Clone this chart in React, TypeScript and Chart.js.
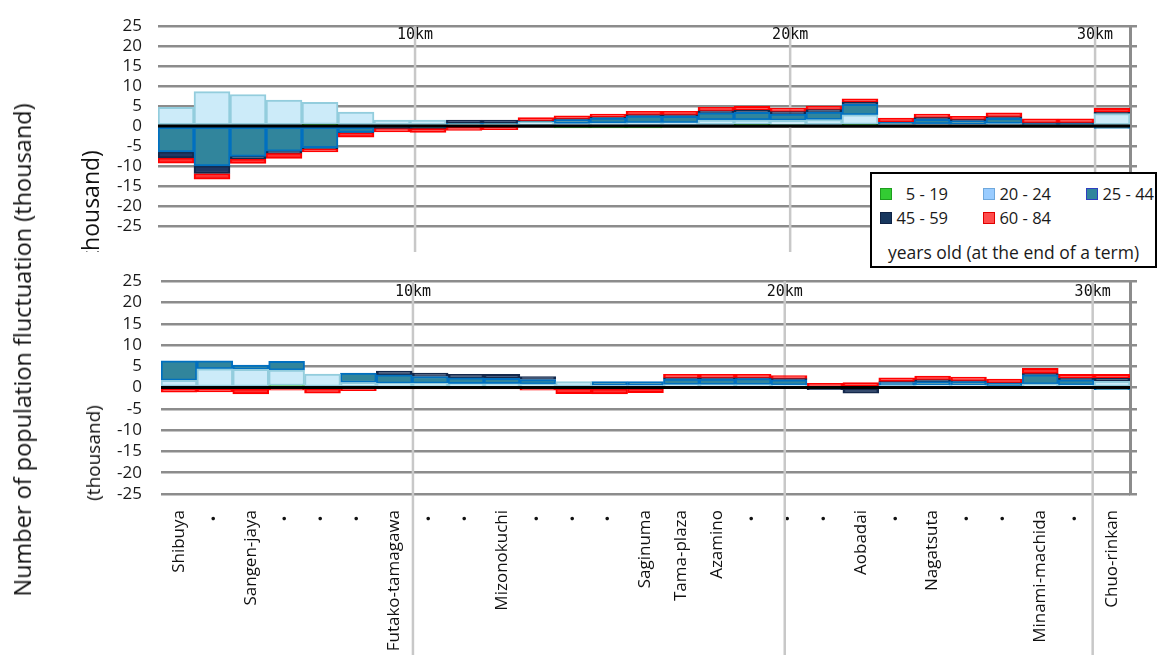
import React, { useEffect, useRef } from 'react';
import { Chart, registerables } from 'chart.js';

Chart.register(...registerables);

const FONT = "'Open Sans', 'Noto Sans CJK JP', sans-serif";
Chart.defaults.font.family = FONT;

// ---------- data ----------
const stations = [
  'Shibuya', '・', 'Sangen-jaya', '・', '・', '・', 'Futako-tamagawa', '・', '・',
  'Mizonokuchi', '・', '・', '・', 'Saginuma', 'Tama-plaza', 'Azamino', '・', '・',
  '・', 'Aobadai', '・', 'Nagatsuta', '・', '・', 'Minami-machida', '・', 'Chuo-rinkan',
];

const ageGroups = ['5 - 19', '20 - 24', '25 - 44', '45 - 59', '60 - 84'];
const legendNote = 'years old (at the end of a term)';

const yMin = -25;
const yMax = 25;
const yStep = 5;

const kmLabels = ['10km', '20km', '30km'];
// positions along the route, in station-index units
const kmPositionsTop = [6.64, 17.06, 25.53];
const kmPositionsBottom = [6.52, 16.88, 25.46];

// upper panel (thousand)
const top5to19 = [0, 0, 0, 0, 0.4, 0, 0, 0, 0, 0, 0, -0.5, -0.5, -0.5, -0.1, 0, 0.4, 0.1, 0, 0.4, 0, 0, 0, 0, 0, 0, 0];
const top20to24 = [4.7, 8.6, 7.9, 6.5, 5.5, 3.5, 1.5, 1.5, 0.5, 0.5, 1.0, 0.6, 0.7, 0.8, 0.8, 1.5, 1.1, 1.3, 1.6, 2.4, 0.4, 0.5, 0.4, 0.6, 0.2, 0.2, 3.1];
const top25to44 = [-6.5, -10.0, -7.6, -6.3, -5.4, -1.6, -0.1, -0.4, 0.2, 0.2, 0.2, 1.0, 1.3, 1.7, 1.6, 1.8, 1.9, 1.6, 1.9, 2.6, 0.5, 1.2, 0.9, 1.3, 0.4, 0.4, -0.6];
const top45to59 = [-1.5, -1.9, -0.6, -0.5, -0.3, -0.1, -0.5, -0.2, 0.8, 0.8, 0.1, 0.2, 0.25, 0.3, 0.4, 0.5, 0.6, 0.6, 0.6, 0.6, 0.1, 0.4, 0.3, 0.4, 0.2, 0.2, 0.3];
const top60to84 = [-1.3, -1.4, -1.2, -1.3, -0.8, -1.1, -0.9, -1.0, -1.1, -0.9, 0.8, 0.75, 0.75, 0.9, 0.9, 0.9, 0.9, 0.9, 0.9, 0.8, 1.0, 0.9, 0.8, 1.0, 1.0, 1.0, 1.1];

// lower panel (thousand)
const bottom5to19 = [0, 0, 0, 0.5, 0, 0, 0, 0, 0, 0, 0, 0, 0, 0, 0, 0, 0, 0, 0, 0, 0, 0, 0, 0, 0.2, 0, 0];
const bottom20to24 = [1.7, 4.4, 4.3, 3.6, 3.2, 1.2, 1.0, 1.0, 0.9, 0.9, 0.8, 1.4, 0.5, 0.5, 0.7, 0.7, 0.7, 0.6, 0.2, 0.3, 0.5, 0.6, 0.6, 0.4, 0.6, 0.6, 1.5];
const bottom25to44 = [4.6, 1.9, 1.0, 2.1, 0, 2.2, 2.0, 1.6, 1.4, 1.3, 1.1, 0, 0.9, 0.9, 1.3, 1.3, 1.4, 1.2, 0, 0, 0.7, 0.8, 0.8, 0.6, 2.2, 1.2, -0.5];
const bottom45to59 = [0, 0, 0, 0, 0, 0, 0.9, 0.8, 0.8, 0.9, 0.7, -0.2, -0.3, -0.1, 0.3, 0.3, 0.2, 0.3, -0.5, -1.3, 0.2, 0.4, 0.2, 0.1, 0.3, 0.4, 0.7];
const bottom60to84 = [-1.1, -1.0, -1.5, -0.6, -1.3, -0.7, -0.3, -0.3, -0.2, -0.3, -0.6, -1.2, -1.2, -1.1, 0.8, 0.8, 0.8, 0.7, 0.8, 0.9, 0.9, 0.9, 0.9, 0.9, 1.2, 0.9, 0.9];

// ---------- styles ----------
const fillColors = ['#3CC43C', '#CCEBF9', '#31859C', '#1F3864', '#FF3030'];
const borderColors = ['#2EA82E', '#93CDDD', '#0070C0', '#14284B', '#FF0000'];
const swatchColors = ['#33CC33', '#99CCFF', '#31859C', '#17375E', '#FF4D4D'];
const swatchBorders = ['#1E9E1E', '#6FA8DC', '#2F3FC0', '#0E2244', '#E00000'];
const GRID = '#8C8C8C';

const toNull = (arr: number[]) => arr.map((v) => (v === 0 ? null : v));

function makeConfig(series: number[][], kmPos: number[], opts: { showLabels: boolean; axisWidth: number; padTop: number; padBottom: number; labelPad: number; kmTextOffset: number }) {
  const overlay = {
    id: 'overlay',
    beforeDatasetsDraw(chart: any) {
      const { ctx, chartArea, scales } = chart;
      ctx.save();
      ctx.strokeStyle = '#C8C8C8';
      ctx.lineWidth = 2.5;
      kmPos.forEach((p) => {
        const px = scales.x.getPixelForValue(p);
        ctx.beginPath();
        ctx.moveTo(px, chartArea.top);
        ctx.lineTo(px, chart.height);
        ctx.stroke();
      });
      ctx.restore();
    },
    afterDatasetsDraw(chart: any) {
      const { ctx, chartArea, scales } = chart;
      const y0 = scales.y.getPixelForValue(0);
      ctx.save();
      ctx.strokeStyle = '#000';
      ctx.lineWidth = 3;
      ctx.beginPath();
      ctx.moveTo(chartArea.left, y0);
      ctx.lineTo(chartArea.right, y0);
      ctx.stroke();
      ctx.font = "15px 'DejaVu Sans Mono', monospace";
      ctx.fillStyle = '#111';
      ctx.textAlign = 'center';
      ctx.textBaseline = 'middle';
      kmPos.forEach((p, i) => {
        ctx.fillText(kmLabels[i], scales.x.getPixelForValue(p), chartArea.top + opts.kmTextOffset);
      });
      ctx.restore();
    },
  };

  return {
    type: 'bar',
    data: {
      labels: stations,
      datasets: series.map((s, i) => ({
        label: ageGroups[i],
        data: toNull(s),
        backgroundColor: fillColors[i],
        borderColor: borderColors[i],
        borderWidth: 2,
        borderSkipped: false,
        barPercentage: 1,
        categoryPercentage: 1,
      })),
    },
    options: {
      responsive: false,
      animation: false,
      events: [],
      layout: { padding: { left: 0, right: 0, top: opts.padTop, bottom: opts.padBottom } },
      plugins: { legend: { display: false }, tooltip: { enabled: false }, title: { display: false } },
      scales: {
        x: {
          stacked: true,
          display: opts.showLabels,
          grid: { display: false },
          border: { display: false },
          ticks: {
            autoSkip: false,
            maxRotation: 90,
            minRotation: 90,
            padding: 8,
            color: '#111',
            font: { size: 17, family: FONT },
          },
          afterFit: (s: any) => {
            if (opts.showLabels) s.height = 161;
          },
        },
        y: {
          stacked: true,
          position: 'left',
          min: yMin,
          max: yMax,
          border: { display: false },
          grid: {
            color: (c: any) => (c.tick && c.tick.value === 0 ? '#000' : GRID),
            lineWidth: 2.5,
            drawTicks: false,
          },
          ticks: { stepSize: yStep, autoSkip: false, padding: opts.labelPad, color: '#1a1a1a', font: { size: 17, family: FONT } },
          afterFit: (s: any) => {
            s.width = opts.axisWidth;
          },
        },
        yr: {
          position: 'right',
          min: yMin,
          max: yMax,
          border: { display: true, color: GRID, width: 3 },
          grid: { drawOnChartArea: false, drawTicks: true, tickLength: 7, color: GRID, lineWidth: 2.5 },
          ticks: { stepSize: yStep, autoSkip: false, display: false },
          afterFit: (s: any) => {
            s.width = 29;
          },
        },
      },
    },
    plugins: [overlay],
  };
}

function ChartCanvas({ top, width, height, config }: { top: number; width: number; height: number; config: any }) {
  const ref = useRef<HTMLCanvasElement | null>(null);
  useEffect(() => {
    if (!ref.current) return;
    const chart = new Chart(ref.current, config);
    return () => chart.destroy();
  }, []);
  return (
    <canvas
      ref={ref}
      width={width}
      height={height}
      style={{ position: 'absolute', left: 0, top, width, height }}
    />
  );
}

function Legend() {
  const rows = [[0, 1, 2], [3, 4]];
  const colOffsets = [8, 111, 214];
  return (
    <div
      style={{
        position: 'absolute',
        left: 870,
        top: 172,
        width: 283,
        height: 92,
        border: '2px solid #000',
        background: '#fff',
        fontFamily: FONT,
        fontSize: 16.5,
        color: '#1a1a1a',
      }}
    >
      {rows.map((row, ri) => (
        <div key={ri} style={{ position: 'absolute', left: 0, top: 8 + ri * 24, height: 24, width: '100%' }}>
          {row.map((gi, ci) => (
            <div key={gi} style={{ position: 'absolute', left: colOffsets[ci], top: 0, height: 24, display: 'flex', alignItems: 'center' }}>
              <span
                style={{
                  display: 'inline-block',
                  width: 10,
                  height: 10,
                  background: swatchColors[gi],
                  border: `1px solid ${swatchBorders[gi]}`,
                }}
              />
              <span style={{ display: 'inline-block', width: 54, marginLeft: 2, textAlign: 'right', lineHeight: '24px', whiteSpace: 'nowrap' }}>{ageGroups[gi]}</span>
            </div>
          ))}
        </div>
      ))}
      <div style={{ position: 'absolute', left: 0, width: '100%', top: 66, textAlign: 'center', lineHeight: '24px', fontSize: 17.5 }}>{legendNote}</div>
    </div>
  );
}

export default function App() {
  const topConfig = makeConfig(
    [top5to19, top20to24, top25to44, top45to59, top60to84],
    kmPositionsTop,
    { showLabels: false, axisWidth: 158, padTop: 17, padBottom: 13, labelPad: 16, kmTextOffset: 9 }
  );
  const bottomConfig = makeConfig(
    [bottom5to19, bottom20to24, bottom25to44, bottom45to59, bottom60to84],
    kmPositionsBottom,
    { showLabels: true, axisWidth: 161, padTop: 19, padBottom: 0, labelPad: 19, kmTextOffset: 11 }
  );
  return (
    <div style={{ position: 'absolute', left: 0, top: 0, width: 1159, height: 655, background: '#fff', overflow: 'hidden' }}>
      <ChartCanvas top={0} width={1159} height={252} config={topConfig} />
      <ChartCanvas top={252} width={1159} height={403} config={bottomConfig} />
      <div
        style={{
          position: 'absolute',
          left: 22,
          top: 350,
          transform: 'translate(-50%, -50%) rotate(-90deg)',
          whiteSpace: 'nowrap',
          fontFamily: FONT,
          fontSize: 23.5,
          color: '#111',
        }}
      >
        Number of population fluctuation (thousand)
      </div>
      <div style={{ position: 'absolute', left: 0, top: 0, width: 150, height: 252, overflow: 'hidden' }}>
        <div
          style={{
            position: 'absolute',
            left: 90,
            top: 208,
            transform: 'translate(-50%, -50%) rotate(-90deg)',
            whiteSpace: 'nowrap',
            fontFamily: FONT,
            fontSize: 23,
            color: '#111',
          }}
        >
          (thousand)
        </div>
      </div>
      <div
        style={{
          position: 'absolute',
          left: 93,
          top: 453,
          transform: 'translate(-50%, -50%) rotate(-90deg)',
          whiteSpace: 'nowrap',
          fontFamily: FONT,
          fontSize: 19,
          color: '#111',
        }}
      >
        (thousand)
      </div>
      <Legend />
    </div>
  );
}
